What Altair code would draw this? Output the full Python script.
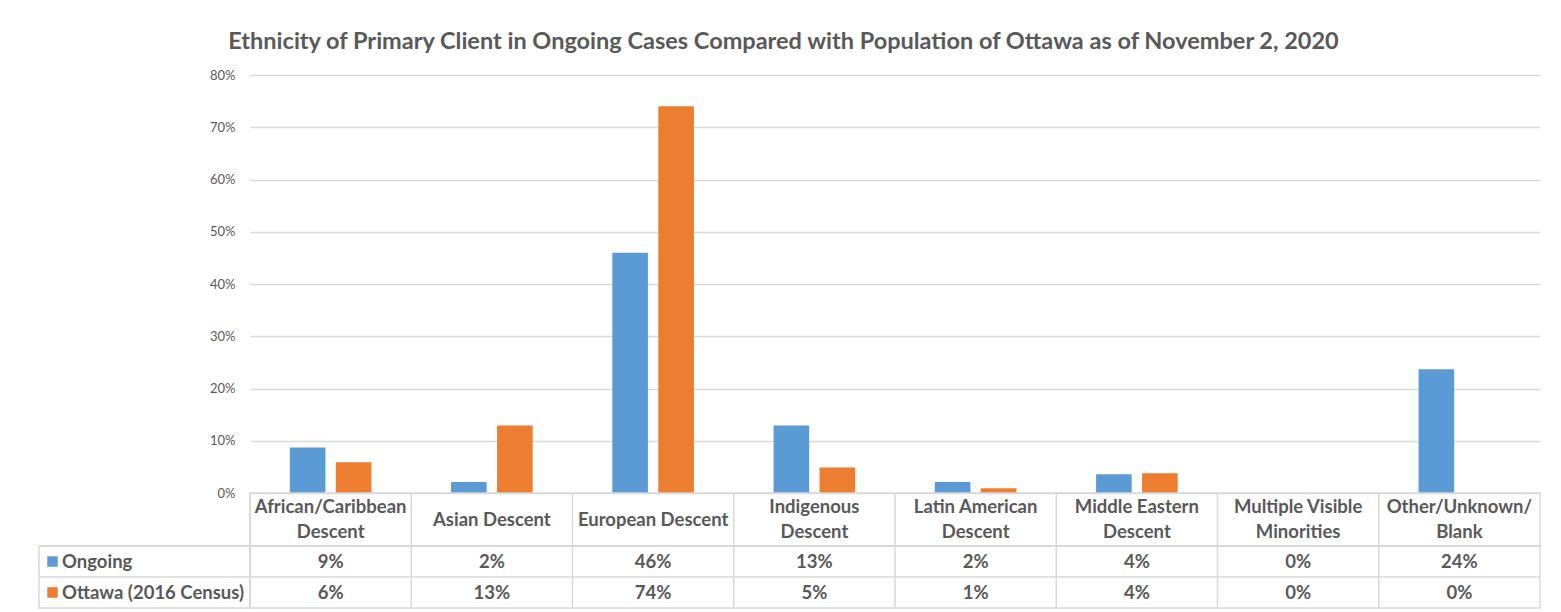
import altair as alt
import pandas as pd

# ---- data ----
categories = [
    "African/Caribbean Descent", "Asian Descent", "European Descent",
    "Indigenous Descent", "Latin American Descent", "Middle Eastern Descent",
    "Multiple Visible Minorities", "Other/Unknown/ Blank",
]
header_labels = [
    "African/Caribbean\nDescent", "Asian Descent", "European Descent",
    "Indigenous\nDescent", "Latin American\nDescent", "Middle Eastern\nDescent",
    "Multiple Visible\nMinorities", "Other/Unknown/\nBlank",
]
series_names = ["Ongoing", "Ottawa (2016 Census)"]
ongoing = [0.087, 0.021, 0.46, 0.129, 0.021, 0.036, 0.0, 0.237]
ottawa = [0.059, 0.129, 0.74, 0.049, 0.009, 0.038, 0.0, 0.0]
series_colors = ["#5B9BD5", "#ED7D31"]
y_ticks = [0, 0.1, 0.2, 0.3, 0.4, 0.5, 0.6, 0.7, 0.8]
title_text = ("Ethnicity of Primary Client in Ongoing Cases Compared with "
              "Population of Ottawa as of November 2, 2020")

records = []
for i, c in enumerate(categories):
    records.append({"category": c, "series": series_names[0], "value": ongoing[i]})
    records.append({"category": c, "series": series_names[1], "value": ottawa[i]})
df = pd.DataFrame(records)
hdr = pd.DataFrame({"category": categories, "label": header_labels})
hdr["lines"] = hdr["label"].str.count("\n") + 1
leg = pd.DataFrame({"series": series_names})

FONT = "Lato"
GREY = "#595959"
LINE = "#d9d9d9"
W, H = 1290, 418
LW, HH, RH = 211, 53, 62
TFS = 18.5
LH = 24.5

color = alt.Color("series:N", scale=alt.Scale(domain=series_names, range=series_colors), legend=None)

bars = alt.Chart(df).mark_bar().encode(
    x=alt.X("category:N", sort=categories,
            scale=alt.Scale(domain=categories, paddingInner=0.494, paddingOuter=0.247),
            axis=None),
    xOffset=alt.XOffset("series:N", sort=series_names,
                        scale=alt.Scale(domain=series_names, paddingInner=0.226, paddingOuter=0)),
    y=alt.Y("value:Q", scale=alt.Scale(domain=[0, 0.8], nice=False),
            axis=alt.Axis(title=None, format=".0%", values=y_ticks, grid=True,
                          gridColor=LINE, gridWidth=1.5, domain=False, ticks=False,
                          labelPadding=15, labelFont=FONT, labelFontSize=13,
                          labelColor=GREY)),
    color=color,
).properties(width=W, height=H)

tab_xscale = alt.Scale(domain=categories, paddingInner=0, paddingOuter=0)
tab_yscale = alt.Scale(domain=series_names, paddingInner=0, paddingOuter=0)
xtab = alt.X("category:N", sort=categories, scale=tab_xscale, axis=None)
ytab = alt.Y("series:N", sort=series_names, scale=tab_yscale, axis=None)
box = alt.ViewBackground(stroke=LINE, strokeWidth=1.5)

# vertical cell borders at the start of every category band
vsep = alt.Chart(hdr).mark_rule(color=LINE, strokeWidth=1.5).encode(
    x=alt.X("category:N", sort=categories, scale=tab_xscale, axis=None, bandPosition=0))
# horizontal border between the two table rows
hsep = alt.Chart(leg).mark_rule(color=LINE, strokeWidth=1.5).encode(
    y=alt.Y("series:N", sort=series_names, scale=tab_yscale, axis=None, bandPosition=0))

hbase = alt.Chart(hdr)
h_two = hbase.transform_filter("datum.lines == 2").mark_text(
    font=FONT, fontSize=TFS, fontWeight="bold", color=GREY, lineBreak="\n",
    lineHeight=LH, dy=-LH / 2
).encode(x=xtab, text="label:N")
h_one = hbase.transform_filter("datum.lines == 1").mark_text(
    font=FONT, fontSize=TFS, fontWeight="bold", color=GREY
).encode(x=xtab, text="label:N")
header = alt.layer(vsep, h_two, h_one).properties(width=W, height=HH, view=box)

tvals = alt.Chart(df).mark_text(
    font=FONT, fontSize=TFS, fontWeight="bold", color=GREY
).encode(x=xtab, y=ytab, text=alt.Text("value:Q", format=".0%"))
table = alt.layer(vsep, hsep, tvals).properties(width=W, height=RH, view=box)

left_sq = alt.Chart(leg).mark_square(size=110, opacity=1).encode(
    x=alt.value(13.5), y=ytab, color=color)
left_tx = alt.Chart(leg).mark_text(
    align="left", font=FONT, fontSize=TFS, fontWeight="bold", color=GREY
).encode(x=alt.value(23), y=ytab, text="series:N")
left = alt.layer(hsep, left_sq, left_tx).properties(width=LW, height=RH, view=box)


def blank(w, h):
    return alt.Chart(leg).mark_text(text="").encode(
        x=alt.value(0), y=alt.value(0)).properties(width=w, height=h)


chart = alt.concat(
    blank(LW, H), bars,
    blank(LW, HH), header,
    left, table,
    columns=2, spacing=0, bounds="flush", align="each",
).properties(
    title=alt.TitleParams(title_text, font=FONT, fontSize=23.5, fontWeight="bold",
                          color=GREY, anchor="middle", offset=15, dx=-6),
    padding={"left": 37, "top": 30, "right": 5, "bottom": 0},
    background="white",
).configure_view(stroke="transparent")

chart.save("out.html", embed_options={"renderer": "svg", "actions": False})
